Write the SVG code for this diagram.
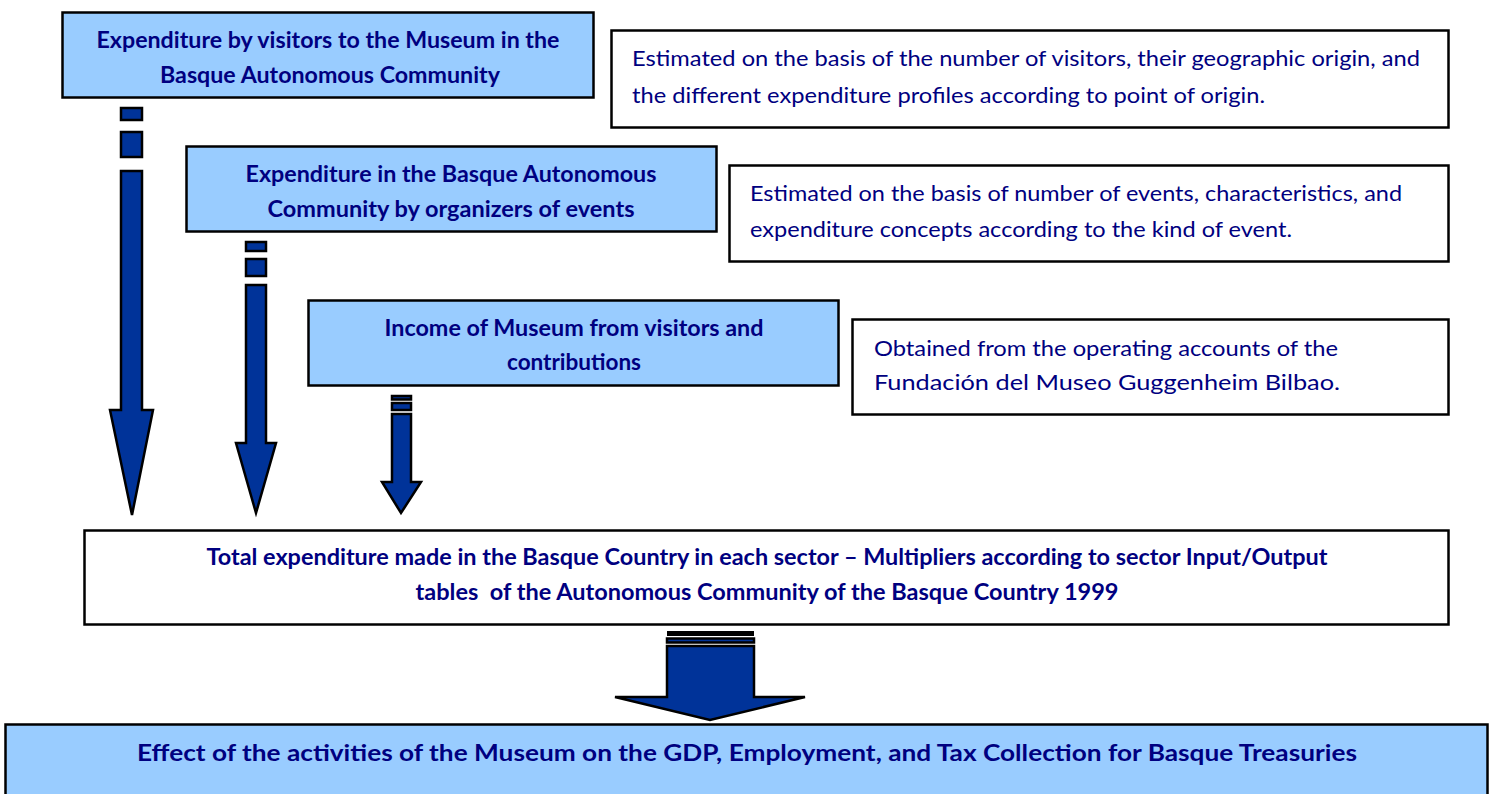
<svg xmlns="http://www.w3.org/2000/svg" width="1491" height="794" viewBox="0 0 1491 794">
<style>
.box{stroke:#000;stroke-width:2.5}
.blue{fill:#99CCFF}
.white{fill:#FFFFFF}
.t{font-family:Lato,"Liberation Sans",sans-serif;fill:#000080;font-size:23px;font-weight:bold;text-anchor:middle}
.n{font-family:Lato,"Liberation Sans",sans-serif;fill:#000080;font-size:21px}
.arr{fill:#003399;stroke:#000;stroke-width:2.5;stroke-linejoin:miter}
</style>
<rect width="1491" height="794" fill="#FFFFFF"/>
<g id="node-visitors">
<rect class="box blue" x="62.5" y="12.5" width="531" height="85"/>
<text class="t" x="328" y="48" textLength="463" lengthAdjust="spacingAndGlyphs">Expenditure by visitors to the Museum in the</text>
<text class="t" x="330" y="83" textLength="340" lengthAdjust="spacingAndGlyphs">Basque Autonomous Community</text>
</g>
<g id="note-visitors">
<rect class="box white" x="611.5" y="30.5" width="837" height="97"/>
<text class="n" x="632" y="66" textLength="788" lengthAdjust="spacingAndGlyphs">Estimated on the basis of the number of visitors, their geographic origin, and</text>
<text class="n" x="632" y="103" textLength="633" lengthAdjust="spacingAndGlyphs">the different expenditure profiles according to point of origin.</text>
</g>
<g id="node-events">
<rect class="box blue" x="186.5" y="146.5" width="530" height="85"/>
<text class="t" x="451" y="182" textLength="411" lengthAdjust="spacingAndGlyphs">Expenditure in the Basque Autonomous</text>
<text class="t" x="451" y="217" textLength="367" lengthAdjust="spacingAndGlyphs">Community by organizers of events</text>
</g>
<g id="note-events">
<rect class="box white" x="729.5" y="165.5" width="719" height="96"/>
<text class="n" x="750" y="201" textLength="652" lengthAdjust="spacingAndGlyphs">Estimated on the basis of number of events, characteristics, and</text>
<text class="n" x="750" y="237" textLength="542" lengthAdjust="spacingAndGlyphs">expenditure concepts according to the kind of event.</text>
</g>
<g id="node-income">
<rect class="box blue" x="308.5" y="300.5" width="530" height="85"/>
<text class="t" x="574" y="336" textLength="379" lengthAdjust="spacingAndGlyphs">Income of Museum from visitors and</text>
<text class="t" x="574" y="370" textLength="134" lengthAdjust="spacingAndGlyphs">contributions</text>
</g>
<g id="note-income">
<rect class="box white" x="852.5" y="319.5" width="596" height="95"/>
<text class="n" x="874" y="356" textLength="464" lengthAdjust="spacingAndGlyphs">Obtained from the operating accounts of the</text>
<text class="n" x="874" y="390" textLength="466" lengthAdjust="spacingAndGlyphs">Fundación del Museo Guggenheim Bilbao.</text>
</g>
<g id="node-total">
<rect class="box white" x="84.5" y="530.5" width="1364" height="94"/>
<text class="t" x="767" y="565" textLength="1121" lengthAdjust="spacingAndGlyphs">Total expenditure made in the Basque Country in each sector – Multipliers according to sector Input/Output</text>
<text class="t" x="767" y="600" textLength="703" lengthAdjust="spacingAndGlyphs" xml:space="preserve">tables  of the Autonomous Community of the Basque Country 1999</text>
</g>
<g id="node-effect">
<rect class="box blue" x="5.5" y="724.5" width="1482" height="80"/>
<text class="t" x="747" y="761" textLength="1220" lengthAdjust="spacingAndGlyphs">Effect of the activities of the Museum on the GDP, Employment, and Tax Collection for Basque Treasuries</text>
</g>
<g id="connectors">
<rect class="arr" x="121" y="108" width="21" height="12"/>
<rect class="arr" x="121" y="132" width="21" height="25"/>
<polygon class="arr" points="121,171 142,171 142,410 153,410 132,515 110,410 121,410"/>
<rect class="arr" x="246" y="242" width="20" height="9"/>
<rect class="arr" x="246" y="259" width="20" height="17"/>
<polygon class="arr" points="246,285 266,285 266,443 276,443 256,513 236,443 246,443"/>
<rect class="arr" x="392" y="396" width="19" height="3.5"/>
<rect class="arr" x="392" y="403" width="19" height="7"/>
<polygon class="arr" points="392,414 411,414 411,482 421,482 401,513 382,482 392,482"/>
<rect x="667" y="631" width="87" height="5" fill="#000"/>
<rect class="arr" x="667" y="638.5" width="87" height="4" stroke-width="2"/>
<polygon class="arr" points="667,646 754,646 754,697 805,697 710,720 615,697 667,697"/>
</g>
</svg>
